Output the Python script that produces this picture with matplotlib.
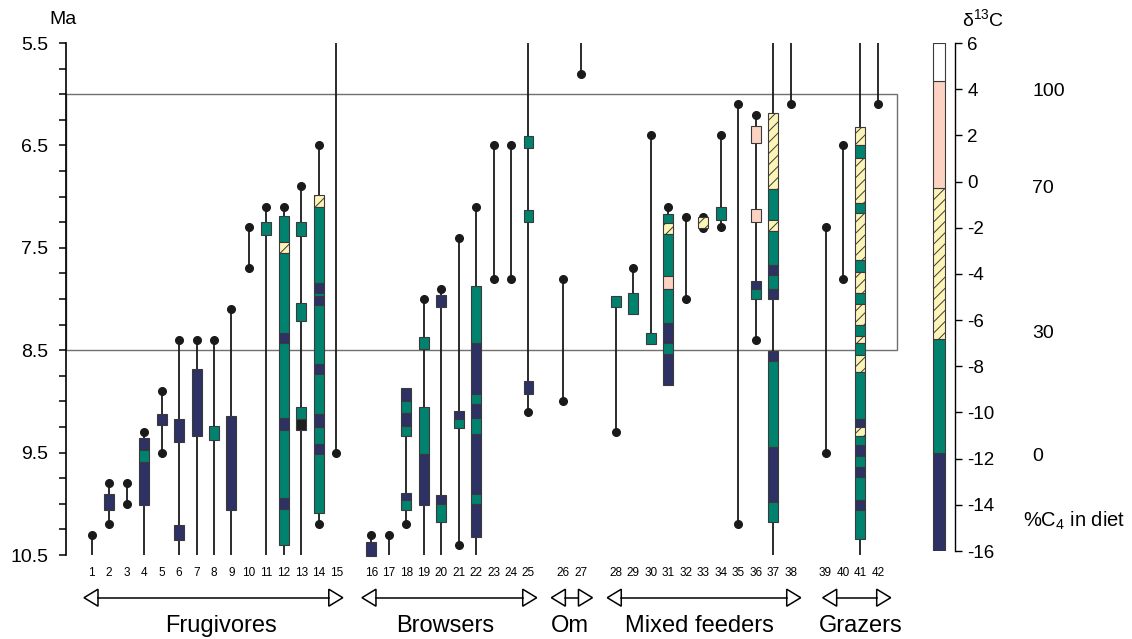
import matplotlib
matplotlib.use('Agg')
import numpy as np
import matplotlib.pyplot as plt
from matplotlib.patches import Rectangle, Polygon
from matplotlib.transforms import blended_transform_factory

plt.rcParams['font.family'] = ['Liberation Sans', 'DejaVu Sans']
plt.rcParams['mathtext.fontset'] = 'custom'
plt.rcParams['mathtext.rm'] = 'Liberation Sans'
plt.rcParams['mathtext.it'] = 'Liberation Sans:italic'
plt.rcParams['hatch.linewidth'] = 0.7

# feeding groups and the column numbers in each
group_names = ['Frugivores', 'Browsers', 'Om', 'Mixed feeders', 'Grazers']
group_first = [1, 16, 26, 28, 39]
group_last = [15, 25, 27, 38, 42]

# age range (Ma) of each column, 1..42
line_top = [10.30, 9.80, 9.80, 9.30, 8.90, 8.40, 8.40, 8.40, 8.10, 7.30,
            7.10, 7.10, 6.90, 6.50, 5.50,
            10.30, 10.30, 8.87, 8.00, 7.90, 7.40, 7.10, 6.50, 6.50, 5.50,
            7.80, 5.50,
            7.97, 7.70, 6.40, 7.10, 7.20, 7.20, 6.40, 6.10, 6.20, 5.50, 5.50,
            7.30, 6.50, 5.50, 5.50]
line_bottom = [10.5, 10.20, 10.00, 10.5, 9.50, 10.5, 10.5, 10.5, 10.5, 7.70,
               10.5, 10.5, 10.5, 10.20, 9.50,
               10.5, 10.5, 10.20, 10.5, 10.5, 10.40, 10.5, 7.80, 7.80, 9.10,
               9.00, 5.80,
               9.30, 8.15, 8.44, 8.84, 8.00, 7.31, 7.30, 10.20, 8.40, 10.5, 6.10,
               9.50, 7.80, 10.5, 6.10]
dots = [[10.30], [9.80, 10.20], [9.80, 10.00], [9.30], [8.90, 9.50], [8.40], [8.40], [8.40], [8.10], [7.30, 7.70],
        [7.10], [7.10], [6.90], [6.50, 10.20], [9.50],
        [10.30], [10.30], [10.20], [8.00], [7.90], [7.40, 10.40], [7.10], [6.50, 7.80], [6.50, 7.80], [9.10],
        [7.80, 9.00], [5.80],
        [9.30], [7.70], [6.40], [7.10], [7.20, 8.00], [7.20, 7.31], [6.40, 7.30], [6.10, 10.20], [6.20, 8.40], [], [6.10],
        [7.30, 9.50], [6.50, 7.80], [], [6.10]]

# isotope boxes: (top Ma, bottom Ma, class)  n=navy t=teal h=hatched p=pink k=black
frug_boxes = {
    2: [(9.90, 10.06, 'n')],
    4: [(9.36, 9.47, 'n'), (9.47, 9.59, 't'), (9.59, 10.01, 'n')],
    5: [(9.12, 9.23, 'n')],
    6: [(9.17, 9.40, 'n'), (10.21, 10.35, 'n')],
    7: [(8.68, 9.34, 'n')],
    8: [(9.24, 9.38, 't')],
    9: [(9.14, 10.06, 'n')],
    11: [(7.245, 7.375, 't')],
    12: [(7.19, 7.44, 't'), (7.44, 7.55, 'h'), (7.55, 8.33, 't'), (8.33, 8.43, 'n'), (8.43, 9.16, 't'),
         (9.16, 9.28, 'n'), (9.28, 9.94, 't'), (9.94, 10.05, 'n'), (10.05, 10.40, 't')],
    13: [(7.245, 7.385, 't'), (8.04, 8.21, 't'), (9.05, 9.17, 't'), (9.17, 9.28, 'k')],
    14: [(6.98, 7.10, 'h'), (7.10, 7.84, 't'), (7.84, 7.94, 'n'), (7.94, 7.97, 't'), (7.97, 8.06, 'n'),
         (8.06, 8.63, 't'), (8.63, 8.73, 'n'), (8.73, 9.12, 't'), (9.12, 9.25, 'n'), (9.25, 9.42, 't'),
         (9.42, 9.51, 'n'), (9.51, 10.09, 't')],
}
brow_boxes = {
    16: [(10.37, 10.51, 'n')],
    18: [(8.87, 9.00, 'n'), (9.00, 9.11, 't'), (9.11, 9.24, 'n'), (9.24, 9.34, 't'),
         (9.89, 9.96, 'n'), (9.96, 10.06, 't')],
    19: [(8.37, 8.49, 't'), (9.05, 9.51, 't'), (9.51, 10.01, 'n')],
    20: [(7.96, 8.08, 'n'), (9.91, 10.00, 'n'), (10.00, 10.18, 't')],
    21: [(9.09, 9.17, 'n'), (9.17, 9.26, 't')],
    22: [(7.87, 8.43, 't'), (8.43, 8.93, 'n'), (8.93, 9.03, 't'), (9.03, 9.16, 'n'), (9.16, 9.32, 't'),
         (9.32, 9.90, 'n'), (9.90, 10.00, 't'), (10.00, 10.32, 'n')],
    25: [(6.41, 6.53, 't'), (7.13, 7.25, 't'), (8.80, 8.93, 'n')],
}
mixed_boxes = {
    28: [(7.97, 8.08, 't')],
    29: [(7.94, 8.15, 't')],
    30: [(8.33, 8.44, 't')],
    31: [(7.17, 7.26, 't'), (7.26, 7.37, 'h'), (7.37, 7.78, 't'), (7.78, 7.90, 'p'), (7.90, 8.23, 't'),
         (8.23, 8.43, 'n'), (8.43, 8.54, 't'), (8.54, 8.84, 'n')],
    33: [(7.20, 7.31, 'h')],
    34: [(7.10, 7.23, 't')],
    36: [(6.31, 6.48, 'p'), (7.12, 7.245, 'p'), (7.82, 7.90, 'n'), (7.90, 8.00, 't')],
    37: [(6.18, 6.93, 'h'), (6.93, 7.23, 't'), (7.23, 7.34, 'h'), (7.34, 7.67, 't'), (7.67, 7.77, 'n'),
         (7.77, 7.90, 't'), (7.90, 8.00, 'n'), (8.51, 8.61, 'n'), (8.61, 9.45, 't'), (9.45, 9.98, 'n'),
         (9.98, 10.18, 't')],
}
graz_boxes = {
    41: [(6.32, 6.50, 'h'), (6.50, 6.62, 't'), (6.62, 7.06, 'h'), (7.06, 7.16, 't'), (7.16, 7.62, 'h'),
         (7.62, 7.74, 't'), (7.74, 7.94, 'h'), (7.94, 8.05, 't'), (8.05, 8.25, 'h'), (8.25, 8.36, 't'),
         (8.36, 8.43, 'h'), (8.43, 8.55, 't'), (8.55, 8.71, 'h'), (8.71, 9.17, 't'), (9.17, 9.25, 'n'),
         (9.25, 9.34, 'h'), (9.34, 9.43, 't'), (9.43, 9.53, 'n'), (9.53, 9.64, 't'), (9.64, 9.74, 'n'),
         (9.74, 9.96, 't'), (9.96, 10.06, 'n'), (10.06, 10.34, 't')],
}

# d13C colour scale
scale_lo = [-16, -11.75, -6.8, -0.3, 4.35]
scale_hi = [-11.75, -6.8, -0.3, 4.35, 6]
scale_kind = ['n', 't', 'h', 'p', 'w']
c4_labels = ['100', '70', '30', '0']
c4_at = [3.9, -0.3, -6.6, -11.9]

fills = {'n': '#2e3163', 't': '#00826f', 'h': '#fdf5b8', 'p': '#fcd3c2', 'k': '#1e1e1e', 'w': 'white'}
edge = '#3a3a3a'

W, H = 1132, 639


def px_box(l, t, r, b):
    return [l / W, 1 - b / H, (r - l) / W, (b - t) / H]


fig = plt.figure(figsize=(W / 100, H / 100), dpi=100)
ax = fig.add_axes(px_box(65.5, 43, 905, 555))
ax.set_xlim(-0.5, 47.55)
ax.set_ylim(10.5, 5.5)

# x position of every column: one empty slot between groups
col_pos = {}
for g, (first, last) in enumerate(zip(group_first, group_last)):
    for n in range(first, last + 1):
        col_pos[n] = n + g

# the 6-8.5 Ma box
ax.add_patch(Rectangle((-0.5, 6.0), 47.6, 2.5, fill=False, edgecolor='#707070', lw=1.0, zorder=1, clip_on=False))

for i in range(42):
    x = col_pos[i + 1]
    ax.plot([x, x], [line_top[i], line_bottom[i]], color='#1a1a1a', lw=1.3, zorder=2,
            solid_capstyle='butt', clip_on=False)
    if dots[i]:
        ax.plot([x] * len(dots[i]), dots[i], 'o', ms=5.5, color='#1a1a1a', zorder=2.5)

for boxes in (frug_boxes, brow_boxes, mixed_boxes, graz_boxes):
    for n, segs in boxes.items():
        for top, bot, kind in segs:
            ax.bar(col_pos[n], bot - top, bottom=top, width=0.57, color=fills[kind], edgecolor=edge,
                   linewidth=0.8, hatch='///' if kind == 'h' else None, zorder=3, clip_on=False)

# y axis
ticks = np.arange(5.5, 10.51, 0.25)
ax.set_yticks(ticks)
ax.set_yticklabels([f'{t:.1f}' if abs((t - 5.5) % 1) < 1e-6 else '' for t in ticks])
ax.tick_params(axis='y', direction='out', length=5.3, width=1.1, pad=7, labelsize=14)
ax.set_xticks([])
for s in ('top', 'right', 'bottom'):
    ax.spines[s].set_visible(False)
ax.spines['left'].set_linewidth(1.2)
fig.text(63 / W, 1 - 20 / H, 'Ma', ha='center', va='center', fontsize=14)

# column numbers, arrows and group names
tr = blended_transform_factory(ax.transData, ax.transAxes)
for n, x in col_pos.items():
    ax.text(x, -0.035, str(n), transform=tr, ha='center', va='center', fontsize=8.5)

arrow_spans = [(0.56, 15.37), (16.47, 26.47), (27.31, 29.66), (30.51, 41.58), (42.84, 46.73)]
label_x = [8.41, 21.25, 28.37, 35.8, 45.0]
arrow_y = -0.0834
head_len = 0.8
head_h = 0.0166
for (x0, x1), lx, name in zip(arrow_spans, label_x, group_names):
    ax.plot([x0 + head_len, x1 - head_len], [arrow_y, arrow_y], color='k', lw=1.1,
            transform=tr, clip_on=False)
    for tip, base in ((x0, x0 + head_len), (x1, x1 - head_len)):
        ax.add_patch(Polygon([[tip, arrow_y], [base, arrow_y + head_h], [base, arrow_y - head_h]],
                             closed=True, facecolor='white', edgecolor='k', lw=1.1,
                             transform=tr, clip_on=False))
    ax.text(lx, -0.139, name, transform=tr, ha='center', va='center', fontsize=17)

# colour scale
cax = fig.add_axes(px_box(925, 43, 955, 551))
cax.set_xlim(0, 1)
cax.set_ylim(-16, 6)
for lo, hi, kind in zip(scale_lo, scale_hi, scale_kind):
    cax.bar(0.47, hi - lo, bottom=lo, width=0.39, color=fills[kind], edgecolor=edge, linewidth=0.8,
            hatch='///' if kind == 'h' else None)
for s in ('top', 'left', 'bottom'):
    cax.spines[s].set_visible(False)
cax.spines['right'].set_linewidth(1.0)
cax.set_xticks([])
cax.yaxis.tick_right()
cax.set_yticks(range(-16, 7, 2))
cax.set_yticklabels([str(v) for v in range(-16, 7, 2)])
cax.tick_params(axis='y', direction='out', length=4.8, width=1.0, pad=4, labelsize=13.5)

fig.text(962 / W, 1 - 19 / H, 'δ$^{13}$C', ha='left', va='center', fontsize=14)
ctr = blended_transform_factory(fig.transFigure, cax.transData)
for lab, v in zip(c4_labels, c4_at):
    cax.text(1032 / W, v, lab, transform=ctr, ha='left', va='center', fontsize=14)
cax.text(1023 / W, -14.7, '%C$_4$ in diet', transform=ctr, ha='left', va='center', fontsize=14.5)

fig.savefig('out.png', dpi=100)
